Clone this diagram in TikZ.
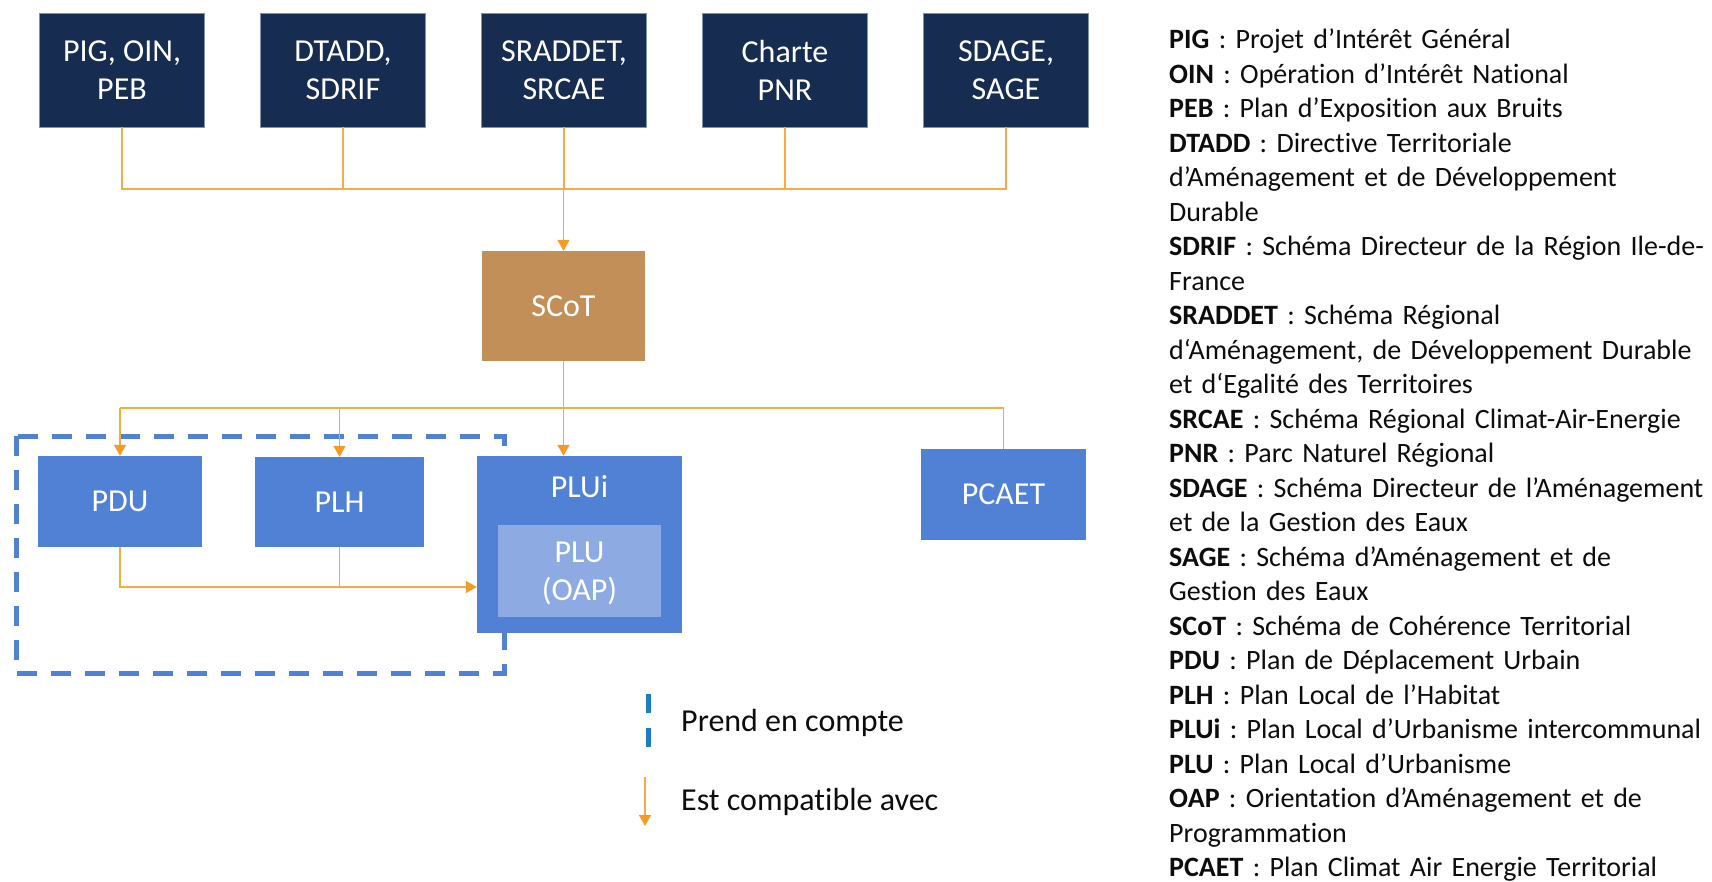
\documentclass[tikz,border=0pt]{standalone}
\usepackage{fontspec}
\setmainfont{Carlito}[Ligatures=NoCommon]
\usetikzlibrary{arrows.meta}
\definecolor{navy}{RGB}{23,44,81}
\definecolor{navyedge}{RGB}{130,145,172}
\definecolor{scotbrown}{RGB}{193,143,87}
\definecolor{boxblue}{RGB}{80,129,212}
\definecolor{plublue}{RGB}{141,170,226}
\definecolor{lineor}{RGB}{245,172,70}
\definecolor{tipor}{RGB}{243,155,35}
\definecolor{legblue}{RGB}{28,124,196}
\definecolor{txt}{RGB}{13,13,13}
\newcommand{\nodefont}{\fontsize{32pt}{38pt}\selectfont}
\frenchspacing
\begin{document}
\frenchspacing
\begin{tikzpicture}[x=1pt,y=-1pt,
  topbox/.style={fill=navy, draw=navyedge, line width=0.8pt, minimum width=165pt, minimum height=114pt, text=white, align=center, font=\nodefont, inner sep=0pt, text depth=0pt},
  bluebox/.style={fill=boxblue, minimum height=91pt, text=white, align=center, font=\nodefont, inner sep=0pt},
  conn/.style={draw=lineor, line width=1.5pt},
  arr/.style={conn, -{Triangle[length=11pt,width=12pt,color=tipor]}},
  legtext/.style={anchor=base west, font=\fontsize{32pt}{38pt}\selectfont, text=txt, inner sep=0pt}
]
\path[use as bounding box, fill=white] (0,0) rectangle (1712,882);

% top row
\node[topbox] (pig) at (122,70) {PIG, OIN,\\PEB};
\node[topbox] (dtadd) at (343,70) {DTADD,\\SDRIF};
\node[topbox] (sraddet) at (564,70) {SRADDET,\\SRCAE};
\node[topbox] (charte) at (785,70) {Charte\\PNR};
\node[topbox] (sdage) at (1006,70) {SDAGE,\\SAGE};

% SCoT
\node[fill=scotbrown, minimum width=163pt, minimum height=110pt, text=white, font=\nodefont, inner sep=0pt] (scot) at (563.5,306) {SCoT};

% dashed "prend en compte" frame
\draw[draw=boxblue, line width=5pt, dash pattern=on 20pt off 14pt] (16,436) rectangle (504,673);

% second row
\node[bluebox, minimum width=164pt] (pdu) at (120,501.5) {PDU};
\node[bluebox, minimum width=169pt, minimum height=90pt] (plh) at (339.5,502) {PLH};
\node[fill=boxblue, minimum width=205pt, minimum height=177pt, inner sep=0pt] (plui) at (579.5,544.5) {};
\node[anchor=base, text=white, font=\nodefont, inner sep=0pt] (pluilabel) at (579.5,497) {PLUi};
\node[fill=plublue, minimum width=163pt, minimum height=92pt, text=white, align=center, font=\nodefont, inner sep=0pt, text depth=0pt] (plu) at (579.5,571) {PLU\\(OAP)};
\node[bluebox, minimum width=165pt] (pcaet) at (1003.5,494.5) {PCAET};

% buses
\coordinate (bus) at (0,189);
\coordinate (bus2) at (0,408);
\coordinate (bus3) at (0,587);

% top connectors
\draw[conn] (pig.south) |- (sdage.south |- bus) -- (sdage.south);
\draw[conn] (dtadd.south) -- (dtadd.south |- bus);
\draw[conn] (sraddet.south) -- (sraddet.south |- bus);
\draw[conn] (charte.south) -- (charte.south |- bus);
\draw[arr] (scot.north |- bus) -- (scot.north);

% second level connectors
\draw[conn] (scot.south) -- (scot.south |- bus2);
\draw[conn] (pdu.north |- bus2) -- (pcaet.north |- bus2) -- (pcaet.north);
\draw[arr] (scot.south |- bus2) -- (scot.south |- plui.north);
\draw[arr] (pdu.north |- bus2) -- (pdu.north);
\draw[arr] (plh.north |- bus2) -- (plh.north);

% PDU/PLH to PLUi
\draw[arr] (pdu.south) |- (plui.west |- bus3);
\draw[conn] (plh.south) -- (plh.south |- bus3);

% legend
\coordinate (lgA) at (648,694);
\coordinate (lgB) at (648,747);
\draw[draw=legblue, line width=5pt, dash pattern=on 19pt off 15pt] (lgA) -- (lgB);
\node[legtext] (leg1) at (681,731) {Prend en compte};
\coordinate (laA) at (645,777);
\coordinate (laB) at (645,826);
\draw[arr] (laA) -- (laB);
\node[legtext] (leg2) at (681,810) {Est compatible avec};

% glossary
\node[anchor=base west, text width=600pt, align=left, inner sep=0pt, text=txt, font=\fontsize{28pt}{34.5pt}\selectfont\frenchspacing] (gloss) at (1169,49) {%
\textbf{PIG} : Projet d’Intérêt Général\\
\textbf{OIN} : Opération d’Intérêt National\\
\textbf{PEB} : Plan d’Exposition aux Bruits\\
\textbf{DTADD} : Directive Territoriale\\
d’Aménagement et de Développement\\
Durable\\
\textbf{SDRIF} : Schéma Directeur de la Région Ile-de-\\
France\\
\textbf{SRADDET} : Schéma Régional\\
d‘Aménagement, de Développement Durable\\
et d‘Egalité des Territoires\\
\textbf{SRCAE} : Schéma Régional Climat-Air-Energie\\
\textbf{PNR} : Parc Naturel Régional\\
\textbf{SDAGE} : Schéma Directeur de l’Aménagement\\
et de la Gestion des Eaux\\
\textbf{SAGE} : Schéma d’Aménagement et de\\
Gestion des Eaux\\
\textbf{SCoT} : Schéma de Cohérence Territorial\\
\textbf{PDU} : Plan de Déplacement Urbain\\
\textbf{PLH} : Plan Local de l’Habitat\\
\textbf{PLUi} : Plan Local d’Urbanisme intercommunal\\
\textbf{PLU} : Plan Local d’Urbanisme\\
\textbf{OAP} : Orientation d’Aménagement et de\\
Programmation\\
\textbf{PCAET} : Plan Climat Air Energie Territorial};
\end{tikzpicture}
\end{document}
